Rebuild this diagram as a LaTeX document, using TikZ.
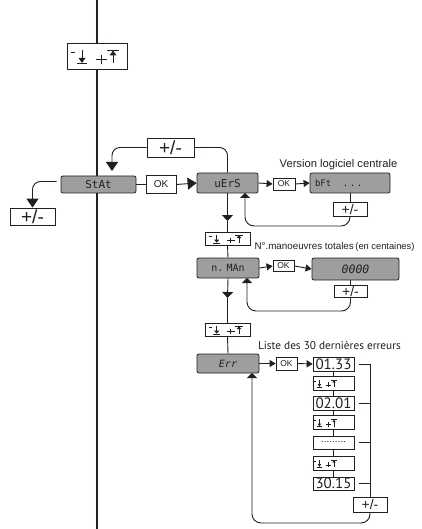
\documentclass[tikz,border=0pt]{standalone}
\usepackage{fontspec}
\setmainfont{Liberation Sans}
\newfontfamily\myr{PT Sans}
\newfontfamily\segfont{DejaVu Sans Mono}
\usetikzlibrary{arrows.meta}
\definecolor{disp}{RGB}{158,158,158}
\definecolor{ink}{RGB}{35,31,32}
\newcommand{\udat}[5]{%
  \begin{scope}[shift={(#1.center)},xshift=#4,xscale=#2,yscale=#3,line width=#5]
    \draw[ink] (-26,-3.5)--(-22,-3.5);
    \draw[ink] (-15,-6)--(-15,3);
    \fill[ink] (-18.5,2)--(-11.5,2)--(-15,7)--cycle;
    \draw[ink] (-20,7.5)--(-10,7.5);
    \draw[ink] (-1,3.5)--(10,3.5) (4.5,-1)--(4.5,8);
    \draw[ink] (10,-5.5)--(22,-5.5);
    \fill[ink] (12.5,-0.5)--(19.5,-0.5)--(16,-5.5)--cycle;
    \draw[ink] (16,-1)--(16,7.5);
  \end{scope}}
\tikzset{
  every node/.style={inner sep=0pt, text=ink},
  disp/.style={draw=ink, fill=disp, rounded corners=2pt, line width=0.8pt, font=\segfont\fontsize{11}{11}\selectfont},
  wbox/.style={draw=ink, fill=white, line width=0.8pt},
  udbig/.style={wbox, minimum width=60pt, minimum height=26pt},
  udmid/.style={wbox, minimum width=45pt, minimum height=13pt},
  udsmall/.style={wbox, minimum width=41pt, minimum height=14pt},
  okbig/.style={wbox, minimum width=30pt, minimum height=18pt, font=\fontsize{10}{10}\selectfont},
  oksm/.style={wbox, minimum width=22pt, minimum height=12pt, font=\fontsize{8.5}{8.5}\selectfont},
  pmbig/.style={wbox, font=\fontsize{19}{19}\selectfont},
  pmsm/.style={wbox, font=\fontsize{14}{14}\selectfont},
  ebox/.style={wbox, minimum width=41pt, minimum height=14pt, font=\myr\fontsize{15}{15}\selectfont},
  conn/.style={draw=ink, line width=0.9pt},
  arr/.style={conn, -{Triangle[width=7pt,length=6pt]}},
  arrbig/.style={conn, -{Triangle[width=12pt,length=9pt]}},
  arrdn/.style={conn, -{Triangle[width=11pt,length=6pt]}},
  arrup/.style={conn, -{Triangle[width=10pt,length=5pt]}},
}
\begin{document}
\begin{tikzpicture}[x=1pt,y=-1pt]
\useasboundingbox (0,0) rectangle (422,529);
% main vertical line
\coordinate (mt) at (97,0);
\coordinate (mb) at (97,529);
\draw[draw=ink, line width=1.8pt] (mt) -- (mb);

% nodes
\node[udbig] (ud0) at (97,56) {};
\node[disp, minimum width=75pt, minimum height=17pt] (stat) at (98.5,184.5) {StAt};
\node[okbig] (ok1) at (161,184.5) {OK};
\node[disp, minimum width=61pt, minimum height=20pt] (vers) at (227.5,183) {uErS};
\node[pmbig, minimum width=45pt, minimum height=17pt] (pm1) at (32.5,216.5) {+/-};
\node[pmbig, minimum width=47pt, minimum height=19pt] (pm2) at (170.5,147.5) {+/-};
\node[oksm] (ok2) at (284,184) {OK};
\node[disp, minimum width=80pt, minimum height=20pt] (bft) at (350,183) {\makebox[70pt][l]{\fontsize{9}{9}\selectfont bFt\hspace{1.3em}.\,.\,.}};
\node[pmsm, minimum width=34pt, minimum height=14pt] (pm3) at (350,209) {+/-};
\node[udmid] (ud1) at (227.5,238.5) {};
\node[disp, minimum width=62pt, minimum height=20pt, font=\segfont\fontsize{10}{10}\selectfont] (nman) at (228,268) {n.\,\,MAn};
\node[oksm, minimum width=21pt, minimum height=11pt] (ok3) at (283.5,266) {OK};
\node[disp, minimum width=87pt, minimum height=22pt, font=\segfont\fontsize{11.5}{11.5}\selectfont\slshape] (zero) at (355.5,269) {0000};
\node[pmsm, minimum width=33pt, minimum height=12pt] (pm4) at (350.5,291) {+/-};
\node[udmid] (ud2) at (227.5,329.5) {};
\node[disp, minimum width=62pt, minimum height=19pt, font=\segfont\fontsize{10}{10}\selectfont\slshape] (err) at (228,363.5) {Err};
\node[oksm, minimum width=21pt, minimum height=13pt] (ok4) at (286.5,363.5) {OK};
\node[ebox] (e1) at (333.5,364) {01.33};
\node[udsmall] (u3) at (333.5,383) {};
\node[ebox] (e2) at (333.5,403) {02.01};
\node[udsmall] (u4) at (333.5,422.5) {};
\node[ebox, minimum height=13pt] (e3) at (333.5,442.5) {\fontsize{10}{10}\selectfont .........};
\node[udsmall] (u5) at (333.5,463) {};
\node[ebox, minimum height=13pt] (e4) at (333.5,483.5) {30.15};
\node[pmsm, minimum width=34pt, minimum height=15pt] (pm5) at (370,504.5) {+/-};

% up/down symbols
\udat{ud0}{1}{1}{0pt}{0.9pt}
\udat{ud1}{0.72}{0.6}{0pt}{0.7pt}
\udat{ud2}{0.72}{0.6}{0pt}{0.7pt}
\udat{u3}{0.47}{0.55}{-7pt}{0.6pt}
\udat{u4}{0.47}{0.55}{-7pt}{0.6pt}
\udat{u5}{0.47}{0.55}{-7pt}{0.6pt}

% labels
\node[font=\fontsize{11.2}{11.2}\selectfont] (l1) at (338.5,165) {Version logiciel centrale};
\node[font=\fontsize{9.8}{9.8}\selectfont] (l2) at (334.5,247) {N°.manoeuvres totales\,{\fontsize{9.3}{9.3}\selectfont(en centaines)}};
\node[font=\myr\fontsize{11.3}{11.3}\selectfont] (l3) at (329.5,345) {Liste des 30 dernières erreurs};

% coordinates
\coordinate (s1) at (112,171);
\coordinate (vb) at (245,193);
\coordinate (c1) at (245,226);
\coordinate (a1) at (227.5,221);
\coordinate (nb) at (247,278);
\coordinate (c2) at (247,311);
\coordinate (a2) at (227.5,298);
\coordinate (eb) at (252,373);
\coordinate (c3) at (252,523);

% connectors
\draw[arrbig, shorten <=4pt, rounded corners=8pt] ([yshift=3pt]stat.west) -| (pm1.north);
\draw[arrbig, rounded corners=8pt] (pm2.west) -| (s1);
\draw[conn, rounded corners=8pt] (pm2.east) -| (vers.north);
\draw[conn] (stat.east) -- (ok1.west);
\draw[arrbig] (ok1.east) -- (vers.west);
\draw[arr] (vers.east) -- (ok2.west);
\draw[arr] (ok2.east) -- (bft.west);
\draw[conn] (bft.south) -- (pm3.north);
\draw[arrup, rounded corners=9pt] (pm3.south) |- (c1) -- (vb);
\draw[arrdn] (vers.south) -- (a1);
\draw[conn] (a1) -- (ud1.north);
\draw[conn] (ud1.south) -- (nman.north);
\draw[arr] (nman.east) -- (ok3.west);
\draw[arr] (ok3.east) -- (zero.west);
\draw[conn] (pm4.north |- zero.south) -- (pm4.north);
\draw[arrup, rounded corners=9pt] (pm4.south) |- (c2) -- (nb);
\draw[arrdn] (nman.south) -- (a2);
\draw[conn] (a2) -- (ud2.north);
\draw[conn] (ud2.south) -- (err.north);
\draw[arr] (err.east) -- (ok4.west);
\draw[arr] (ok4.east) -- (e1.west);
\draw[conn] (e1) -- (u3) -- (e2) -- (u4) -- (e3) -- (u5) -- (e4);
\draw[conn] ([xshift=5pt]e1.east) -| (pm5.north);
\draw[conn] ([xshift=5pt]e2.east) -- (e2.east -| pm5.north);
\draw[conn] ([xshift=5pt]e3.east) -- (e3.east -| pm5.north);
\draw[conn] ([xshift=5pt]e4.east) -- (e4.east -| pm5.north);
\draw[arrup, rounded corners=9pt] (pm5.south) |- (c3) -- (eb);
\end{tikzpicture}
\end{document}
